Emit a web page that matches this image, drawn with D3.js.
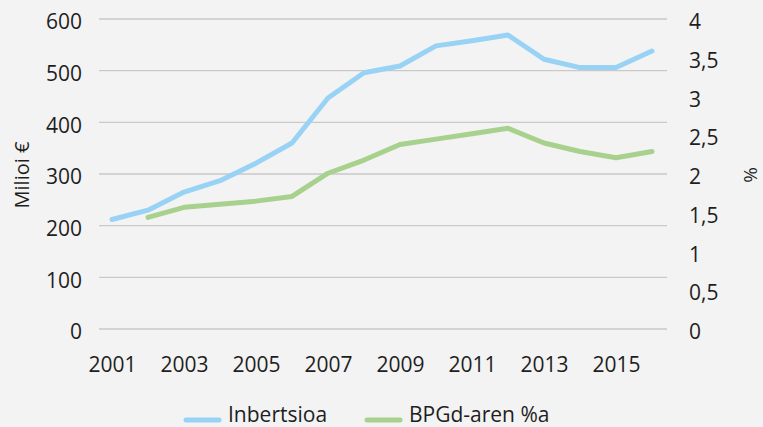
<!DOCTYPE html>
<html>
<head>
<meta charset="utf-8">
<script src="https://cdn.jsdelivr.net/npm/d3@7"></script>
<style>
  html, body { margin: 0; padding: 0; background: #f3f3f3; }
  svg { display: block; }
  text { font-family: "Open Sans", "Noto Sans", sans-serif; fill: #1e1e1e; }
</style>
</head>
<body>
<svg id="chart" width="763" height="427"></svg>
<script>
// Years on the category axis
const years = [2001, 2002, 2003, 2004, 2005, 2006, 2007, 2008,
               2009, 2010, 2011, 2012, 2013, 2014, 2015, 2016];
// Investment, million € (left axis)
const inbertsioa = [212, 230, 265, 287, 321, 360, 447, 496,
                    509, 548, 558, 569, 522, 506, 506, 538];
// Share of GDP, % (right axis); no value for 2001
const bpgdArenPct = [null, 1.44, 1.57, 1.61, 1.65, 1.71, 2.01, 2.18,
                     2.38, 2.45, 2.52, 2.59, 2.40, 2.29, 2.21, 2.29];
const leftTicks = [0, 100, 200, 300, 400, 500, 600];
const rightTicks = [0, 0.5, 1, 1.5, 2, 2.5, 3, 3.5, 4];
const xTickYears = [2001, 2003, 2005, 2007, 2009, 2011, 2013, 2015];
const seriesNames = ["Inbertsioa", "BPGd-aren %a"];
const colors = ["#98d3f5", "#a8d18d"];

const svg = d3.select("#chart");
const plot = { left: 99, right: 667, top: 19, bottom: 329 };

const x = d3.scalePoint().domain(years).range([112, 652]);
const yL = d3.scaleLinear().domain([0, 600]).range([plot.bottom, plot.top]);
const yR = d3.scaleLinear().domain([0, 4]).range([plot.bottom, plot.top]);

// Horizontal gridlines
svg.append("g").selectAll("line").data(leftTicks).join("line")
  .attr("x1", plot.left).attr("x2", plot.right)
  .attr("y1", d => yL(d)).attr("y2", d => yL(d))
  .attr("stroke", "#c9c9c9").attr("stroke-width", 1.3);

// Left axis
const leftAxis = d3.axisLeft(yL).tickValues(leftTicks).tickSize(0).tickPadding(0);
svg.append("g").attr("transform", "translate(82,3)").call(leftAxis)
  .call(g => g.select(".domain").remove())
  .selectAll("text").style("font-size", "21px").attr("fill", "#1e1e1e");

// Right axis
const fmtComma = d => String(d).replace(".", ",");
const rightAxis = d3.axisRight(yR).tickValues(rightTicks).tickSize(0).tickPadding(0)
  .tickFormat(fmtComma);
svg.append("g").attr("transform", "translate(689,3)").call(rightAxis)
  .call(g => g.select(".domain").remove())
  .selectAll("text").style("font-size", "21px").attr("fill", "#1e1e1e");

// Bottom axis
const bottomAxis = d3.axisBottom(x).tickValues(xTickYears).tickSize(0).tickPadding(0);
svg.append("g").attr("transform", "translate(0,357)").call(bottomAxis)
  .call(g => g.select(".domain").remove())
  .selectAll("text").style("font-size", "21px").attr("fill", "#1e1e1e");

// Axis titles
svg.append("text").attr("transform", "translate(29,175) rotate(-90)")
  .attr("text-anchor", "middle").style("font-size", "20px").text("Milioi €");
svg.append("text").attr("transform", "translate(757,175) rotate(-90)")
  .attr("text-anchor", "middle").style("font-size", "19px").text("%");

// Lines
const lineL = d3.line().x((d, i) => x(years[i])).y(d => yL(d));
const lineR = d3.line().defined(d => d != null).x((d, i) => x(years[i])).y(d => yR(d));

svg.append("path").datum(inbertsioa).attr("d", lineL)
  .attr("fill", "none").attr("stroke", colors[0]).attr("stroke-width", 5)
  .attr("stroke-linecap", "round").attr("stroke-linejoin", "round");
svg.append("path").datum(bpgdArenPct).attr("d", lineR)
  .attr("fill", "none").attr("stroke", colors[1]).attr("stroke-width", 5)
  .attr("stroke-linecap", "round").attr("stroke-linejoin", "round");

// Legend
const legendX = [186, 367];
const legend = svg.append("g");
seriesNames.forEach((name, i) => {
  legend.append("line")
    .attr("x1", legendX[i]).attr("x2", legendX[i] + 33)
    .attr("y1", 420).attr("y2", 420)
    .attr("stroke", colors[i]).attr("stroke-width", 5).attr("stroke-linecap", "round");
  legend.append("text").attr("x", legendX[i] + 42).attr("y", 422)
    .style("font-size", "21px").text(name);
});
</script>
</body>
</html>
